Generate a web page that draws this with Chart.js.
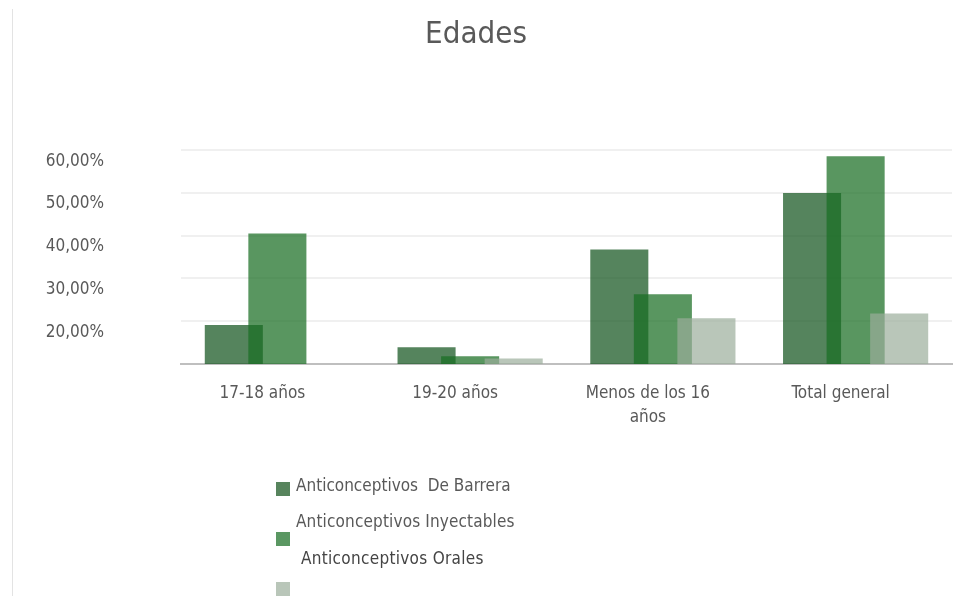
<!DOCTYPE html>
<html>
<head>
<meta charset="utf-8">
<script src="https://cdn.jsdelivr.net/npm/chart.js@4/dist/chart.umd.min.js"></script>
<style>
  html,body{margin:0;padding:0;background:#fff;}
  #wrap{position:relative;width:971px;height:596px;overflow:hidden;background:#fff;}
  #c{position:absolute;left:0;top:0;}
  #vline{position:absolute;left:12px;top:9px;width:1px;height:590px;background:#e3e3e3;}
  .lg-box{position:absolute;width:14px;height:14px;}
  .lg-txt{position:absolute;font-family:"DejaVu Sans Condensed","DejaVu Sans",sans-serif;font-size:17px;color:#595959;white-space:pre;line-height:18px;}
</style>
</head>
<body>
<div id="wrap">
  <canvas id="c" width="971" height="596"></canvas>
  <div id="vline"></div>
  <div id="legend"></div>
</div>
<script>
// ---- data ----
const categories = ["17-18 años", "19-20 años", ["Menos de los 16", "años"], "Total general"];
const seriesNames = ["Anticonceptivos  De Barrera", "Anticonceptivos Inyectables", "Anticonceptivos Orales"];
const barrera     = [19.1, 13.9, 36.8, 50.0];
const inyectables = [40.5, 11.8, 26.3, 58.6];
const orales      = [null, 11.3, 20.7, 21.8];
const yTicks      = [10, 20, 30, 40, 50, 60];

// ---- styles ----
const colors = ["rgba(20,85,30,0.72)", "rgba(25,110,35,0.72)", "rgba(155,174,155,0.7)"];
const legendSwatch = ["#57845d", "#5a9762", "#b9c6b9"];
const FONT = '"DejaVu Sans Condensed","DejaVu Sans",sans-serif';

// draw datasets in index order so later series sit on top (as in the reference)
const drawOrderPlugin = {
  id: 'drawOrder',
  beforeDatasetsDraw(chart) {
    const ctx = chart.ctx, a = chart.chartArea;
    ctx.save();
    ctx.beginPath();
    ctx.rect(a.left, a.top, a.right - a.left, a.bottom - a.top);
    ctx.clip();
    chart.getSortedVisibleDatasetMetas().forEach(m => m.controller.draw());
    ctx.restore();
    return false;
  }
};

const chart = new Chart(document.getElementById('c'), {
  type: 'bar',
  data: {
    labels: categories,
    datasets: [
      {label: seriesNames[0], data: barrera, backgroundColor: colors[0]},
      {label: seriesNames[1], data: inyectables, backgroundColor: colors[1]},
      {label: seriesNames[2], data: orales, backgroundColor: colors[2]}
    ]
  },
  plugins: [drawOrderPlugin],
  options: {
    responsive: false,
    animation: false,
    devicePixelRatio: 1,
    layout: {padding: {left: 0, right: 19, top: 0, bottom: 152}},
    datasets: {bar: {categoryPercentage: 0.678, barPercentage: 1.333, borderWidth: 0}},
    plugins: {
      legend: {display: false},
      tooltip: {enabled: false},
      title: {
        display: true, text: 'Edades', color: '#595959',
        font: {family: FONT, size: 31, weight: 'normal', lineHeight: 1.2},
        padding: {top: 16, bottom: 97}
      }
    },
    scales: {
      x: {
        grid: {display: false, drawTicks: false},
        border: {display: true, color: '#bfbfbf', width: 2},
        ticks: {color: '#595959', font: {family: FONT, size: 17, lineHeight: 1.4}, padding: 18, labelOffset: -15, maxRotation: 0, autoSkip: false},
        afterFit: s => { s.height = 80; }
      },
      y: {
        min: yTicks[0], max: yTicks[yTicks.length - 1],
        afterBuildTicks: s => { s.ticks = yTicks.map(v => ({value: v})); },
        grid: {drawTicks: false, lineWidth: 2, color: ctx => ctx.tick && ctx.tick.value === yTicks[0] ? 'rgba(0,0,0,0)' : '#f0f0f0'},
        border: {display: false},
        ticks: {
          color: '#595959', font: {family: FONT, size: 17}, padding: 77, labelOffset: 11,
          callback: v => v === yTicks[0] ? '' : v.toFixed(2).replace('.', ',') + '%'
        },
        afterFit: s => { s.width = 181; }
      }
    }
  }
});

// ---- legend (HTML, real text) ----
const legendEl = document.getElementById('legend');
const boxTops = [482, 532, 582];
const txtPos = [[296, 476], [296, 512], [301, 549]];
const txtColors = ['#595959', '#595959', '#444444'];
const txtSpacing = ['0px', '0.15px', '0.3px'];
seriesNames.forEach((n, i) => {
  const b = document.createElement('div');
  b.className = 'lg-box';
  b.style.left = '276px'; b.style.top = boxTops[i] + 'px'; b.style.background = legendSwatch[i];
  legendEl.appendChild(b);
  const t = document.createElement('div');
  t.className = 'lg-txt';
  t.style.left = txtPos[i][0] + 'px'; t.style.top = txtPos[i][1] + 'px';
  t.style.color = txtColors[i]; t.style.letterSpacing = txtSpacing[i];
  t.textContent = n;
  legendEl.appendChild(t);
});
</script>
</body>
</html>
